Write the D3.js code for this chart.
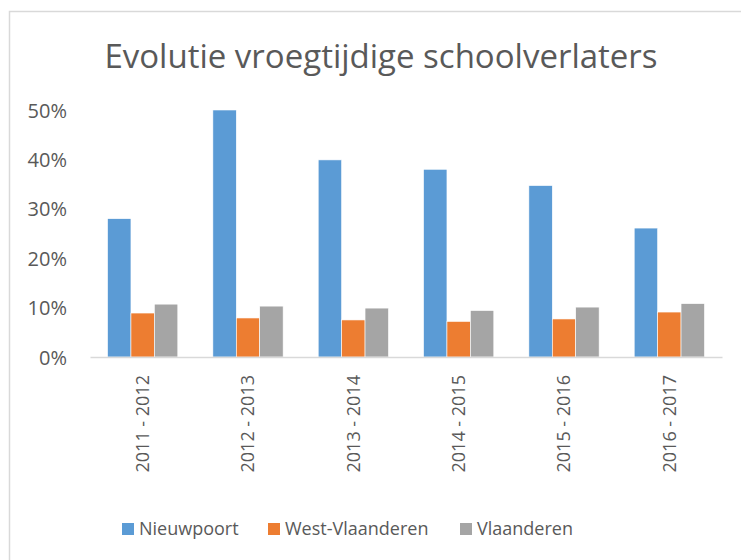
<!DOCTYPE html>
<html>
<head>
<meta charset="utf-8">
<script src="https://cdn.jsdelivr.net/npm/d3@7"></script>
<style>
  body { margin: 0; background: #fff; }
  text { font-family: "Open Sans", "Liberation Sans", sans-serif; fill: #595959; }
</style>
</head>
<body>
<div id="chart"></div>
<script>
"use strict";

// Schooljaren op de x-as.
const categories = ["2011 - 2012", "2012 - 2013", "2013 - 2014", "2014 - 2015", "2015 - 2016", "2016 - 2017"];
const seriesNames = ["Nieuwpoort", "West-Vlaanderen", "Vlaanderen"];
const seriesColors = ["#5b9bd5", "#ed7d31", "#a5a5a5"];

// Aandeel vroegtijdige schoolverlaters (in %).
const nieuwpoort = [28.0, 50.0, 39.9, 38.0, 34.7, 26.1];
const westVlaanderen = [8.9, 7.9, 7.5, 7.2, 7.7, 9.1];
const vlaanderen = [10.7, 10.3, 9.9, 9.4, 10.1, 10.8];
const yTicks = [0, 10, 20, 30, 40, 50];

const width = 741, height = 560;
const plot = {left: 90, right: 722, top: 110, bottom: 357};

const svg = d3.select("#chart").append("svg")
    .attr("width", width)
    .attr("height", height);

// Chart area border (right/bottom fall outside the picture).
svg.append("rect")
    .attr("x", 9.5).attr("y", 11.5)
    .attr("width", 760).attr("height", 580)
    .style("fill", "#fff")
    .style("stroke", "#d9d9d9")
    .style("stroke-width", "1.5px");

svg.append("text")
    .attr("x", 381)
    .attr("y", 68)
    .style("text-anchor", "middle")
    .style("font-size", "33px")
    .text("Evolutie vroegtijdige schoolverlaters");

let x0 = d3.scaleBand().domain(categories).range([plot.left, plot.right]);
let groupWidth = x0.bandwidth() * 0.667;
let x1 = d3.scaleBand().domain(seriesNames)
    .range([(x0.bandwidth() - groupWidth) / 2, (x0.bandwidth() + groupWidth) / 2]);
let y = d3.scaleLinear().domain([0, 50]).range([plot.bottom, plot.top]);

// Y axis labels only, no grid lines.
let yAxis = svg.append("g")
    .attr("transform", "translate(67,0)")
    .call(d3.axisLeft(y).tickValues(yTicks).tickSize(0).tickPadding(0).tickFormat(d => d + "%"));
yAxis.select(".domain").remove();
yAxis.selectAll("text")
    .style("font-size", "20px")
    .style("font-family", "'Open Sans', sans-serif")
    .style("fill", "#595959")
    .attr("dy", "0.35em");

// Bars.
let data = categories.map((c, i) => ({
    cat: c,
    values: [nieuwpoort[i], westVlaanderen[i], vlaanderen[i]]
}));

let groups = svg.selectAll(".group").data(data).enter().append("g")
    .attr("class", "group")
    .attr("transform", d => "translate(" + x0(d.cat) + ",0)");

groups.selectAll("rect")
    .data(d => d.values.map((v, j) => ({name: seriesNames[j], value: v, color: seriesColors[j]})))
    .enter().append("rect")
    .attr("x", d => x1(d.name))
    .attr("width", x1.bandwidth())
    .attr("y", d => y(d.value))
    .attr("height", d => y(0) - y(d.value))
    .style("fill", d => d.color)
    .style("stroke", "#fff")
    .style("stroke-width", "0.6px");

// X axis line and rotated category labels.
let xAxis = svg.append("g")
    .attr("transform", "translate(0," + plot.bottom + ")")
    .call(d3.axisBottom(x0).tickSize(0).tickPadding(0));
xAxis.select(".domain")
    .style("stroke", "#d9d9d9")
    .style("stroke-width", "1.5px");
xAxis.selectAll("text")
    .style("font-size", "18px")
    .style("font-family", "'Open Sans', sans-serif")
    .style("fill", "#595959")
    .style("text-anchor", "end")
    .attr("transform", "rotate(-90)")
    .attr("x", -18)
    .attr("y", 0)
    .attr("dy", "0.35em");

// Legend.
let legendX = [122, 268, 460];
let legend = svg.selectAll(".legend").data(seriesNames).enter().append("g")
    .attr("class", "legend")
    .attr("transform", (d, i) => "translate(" + legendX[i] + ",529)");
legend.append("rect")
    .attr("x", 0).attr("y", -6)
    .attr("width", 12).attr("height", 12)
    .style("fill", (d, i) => seriesColors[i]);
legend.append("text")
    .attr("x", 17)
    .attr("dy", "0.35em")
    .style("font-size", "18px")
    .text(d => d);
</script>
</body>
</html>
